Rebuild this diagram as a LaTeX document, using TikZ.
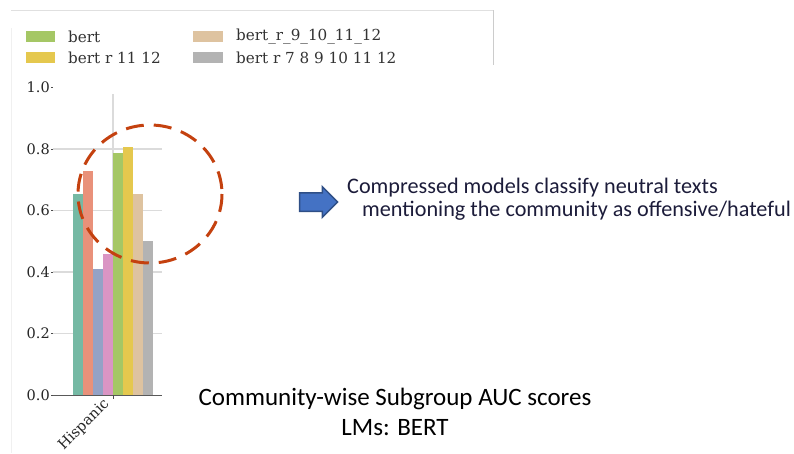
\documentclass[tikz,border=0pt]{standalone}
\usepackage{fontspec}
\newfontfamily\calibri{Carlito}
\newfontfamily\plotfont{DejaVu Serif}
\usetikzlibrary{shapes.arrows,positioning}
\definecolor{barteal}{HTML}{75B9A4}
\definecolor{barorange}{HTML}{E9917A}
\definecolor{barblue}{HTML}{94A2C6}
\definecolor{barpink}{HTML}{DA95C4}
\definecolor{bargreen}{HTML}{A5C765}
\definecolor{baryellow}{HTML}{E5C84E}
\definecolor{bartan}{HTML}{DEC3A0}
\definecolor{bargray}{HTML}{B3B3B3}
\definecolor{circlered}{HTML}{C4410F}
\definecolor{arrowblue}{HTML}{4472C4}
\definecolor{arrowedge}{HTML}{2F4F86}
\definecolor{navytext}{HTML}{1C1C3A}
\tikzset{
    gridline/.style={draw=black!14, line width=1.1pt}, % grid of the plot
    ticklabel/.style={font=\plotfont\fontsize{14.5}{17}\selectfont, anchor=east, inner sep=0pt, text=black!85},
    legendtext/.style={font=\plotfont\fontsize{15.2}{18}\selectfont, anchor=west, inner sep=0pt, text=black!80},
    slidetext/.style={font=\calibri\fontsize{22.2}{26}\selectfont, anchor=west, inner sep=0pt, text=navytext},
}
\begin{document}
\begin{tikzpicture}[x=1pt, y=-1pt]
        \useasboundingbox (0,0) rectangle (794,453);

        % Cornice del grafico
        \draw[black!12, line width=1pt] (11,10) -- (493,10);
        \draw[black!20, line width=1pt] (493,10) -- (493,65);
        \draw[black!6, line width=1pt] (11,28) -- (11,453);

        % Legenda
        \fill[bargreen] (26,31) rectangle (55,42);
        \node[legendtext] (lgbert) at (68,37) {bert};
        \fill[baryellow] (26,52) rectangle (55,63);
        \node[legendtext] (lgbertb) at (68,58) {bert r 11 12};
        \fill[bartan] (193,31) rectangle (223,42);
        \node[legendtext] (lgbertc) at (236,37) {bert\_r\_9\_10\_11\_12};
        \fill[bargray] (193,52) rectangle (223,63);
        \node[legendtext] (lgbertd) at (236,58) {bert r 7 8 9 10 11 12};

        % Griglia
        \foreach \v in {0.2,0.4,0.6,0.8}
            \draw[gridline] (53,395-\v*307.5) -- (162,395-\v*307.5);
        \draw[gridline] (113,94) -- (113,395);

        % Barre
        \foreach \x/\v/\c in {72.7/0.654/barteal, 82.7/0.730/barorange, 92.7/0.410/barblue,
                102.7/0.458/barpink, 112.7/0.788/bargreen, 122.7/0.806/baryellow,
                132.7/0.654/bartan, 142.7/0.500/bargray}
            \fill[\c] (\x,395) rectangle ++(10,-\v*307.5);

        % Asse e etichette
        \draw[black!65, line width=1pt] (52,395) -- (162,395);
        \foreach \v/\t in {0.0/0.0, 0.2/0.2, 0.4/0.4, 0.6/0.6, 0.8/0.8, 1.0/1.0} {
            \draw[black!70, line width=0.8pt] (51,395-\v*307.5) -- (53,395-\v*307.5);
            \node[ticklabel] at (50,395-\v*307.5) {\t};
        }
        \draw[black!70, line width=0.8pt] (113,395) -- (113,399);
        \node[ticklabel, rotate=45, anchor=north east] (hisp) at (102,397) {Hispanic};

        % Cerchio tratteggiato
        \draw[circlered, line width=3pt, dash pattern=on 18pt off 10pt]
            (150,194) ellipse [x radius=72, y radius=69];

        % Freccia e commento
        \node[single arrow, fill=arrowblue, draw=arrowedge, line width=1.5pt,
              minimum height=38pt, inner sep=0pt, inner ysep=8.5pt,
              single arrow head extend=6pt] (blockarrow) at (314,202) {};
        \node[slidetext] (noteone) at (347,188) {Compressed models classify neutral texts};
        \node[slidetext] (notetwo) at (362,211) {mentioning the community as offensive/hateful};

        % Titolo
        \node[font=\calibri\fontsize{25}{30}\selectfont, align=center, text=black] (title) at (395,412)
            {Community-wise Subgroup AUC scores\\LMs: BERT};
    \end{tikzpicture}
\end{document}
